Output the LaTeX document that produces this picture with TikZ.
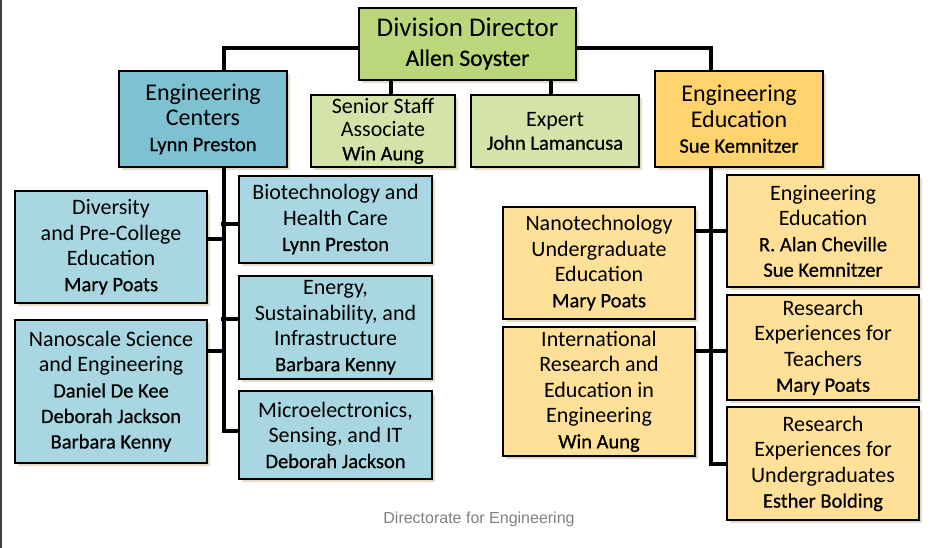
\documentclass[tikz,border=0pt]{standalone}
\usepackage{fontspec}
\setmainfont{Carlito}
\newfontface\namefont{Carlito}[FakeBold=0.7]
\newfontfamily\footfont{Liberation Sans}
\usetikzlibrary{shadows}
\definecolor{dirgreen}{RGB}{186,215,124}
\definecolor{staffgreen}{RGB}{212,228,168}
\definecolor{centerblue}{RGB}{126,194,210}
\definecolor{progblue}{RGB}{168,215,225}
\definecolor{eduorange}{RGB}{255,212,110}
\definecolor{progorange}{RGB}{255,224,153}
\definecolor{shadowtan}{RGB}{228,220,196}
\newcommand{\who}[2][20.5]{{\namefont\fontsize{#1}{25}\selectfont #2}}
\begin{document}
\begin{tikzpicture}[x=1pt,y=-1pt,
  box/.style={draw=black,line width=1.3pt,inner sep=0pt,align=center,
    drop shadow={shadow xshift=3pt,shadow yshift=-3pt,fill=shadowtan,opacity=1}},
  boxsize/.style 2 args={minimum width=#1,minimum height=#2},
  headtext/.style={font=\fontsize{24}{25.5}\selectfont},
  stafftext/.style={font=\fontsize{22}{23.5}\selectfont},
  progtext/.style={font=\fontsize{22}{25.5}\selectfont},
  link/.style={line width=4pt}]
\useasboundingbox (0,0) rectangle (944,548);
\draw[line width=1.5pt,black!75] (0.75,0) -- (0.75,548);

\node[box,fill=dirgreen,boxsize={217pt}{72pt},font=\fontsize{27}{29}\selectfont] (dir) at (467.5,44) {Division Director\\\who[23.5]{Allen Soyster}};
\node[box,fill=centerblue,boxsize={168pt}{96pt},headtext] (centers) at (203,119) {Engineering\\Centers\\\who{Lynn Preston}};
\node[box,fill=staffgreen,boxsize={144pt}{72pt},stafftext] (senior) at (383,131) {Senior Staff\\Associate\\\who{Win Aung}};
\node[box,fill=staffgreen,boxsize={168pt}{72pt},stafftext] (expert) at (555,131) {Expert\\\who{John Lamancusa}};
\node[box,fill=eduorange,boxsize={168pt}{96pt},headtext] (edu) at (739,119) {Engineering\\Education\\\who{Sue Kemnitzer}};

\node[box,fill=progblue,boxsize={193pt}{87pt},progtext] (biotech) at (335.5,219.5) {Biotechnology and\\Health Care\\\who{Lynn Preston}};
\node[box,fill=progblue,boxsize={193pt}{103pt},progtext] (energy) at (335.5,327.5) {Energy,\\Sustainability, and\\Infrastructure\\\who{Barbara Kenny}};
\node[box,fill=progblue,boxsize={193pt}{88pt},progtext] (micro) at (335.5,435) {Microelectronics,\\Sensing, and IT\\\who{Deborah Jackson}};
\node[box,fill=progblue,boxsize={192pt}{112pt},progtext] (diversity) at (111,247) {Diversity\\and Pre-College\\Education\\\who{Mary Poats}};
\node[box,fill=progblue,boxsize={192pt}{143pt},progtext] (nanoscale) at (111,391.5) {Nanoscale Science\\and Engineering\\\who{Daniel De Kee}\\\who{Deborah Jackson}\\\who{Barbara Kenny}};

\node[box,fill=progorange,boxsize={192pt}{112pt},progtext] (nanoedu) at (599,263) {Nanotechnology\\Undergraduate\\Education\\\who{Mary Poats}};
\node[box,fill=progorange,boxsize={192pt}{129pt},progtext] (intl) at (599,391.5) {International\\Research and\\Education in\\Engineering\\\who{Win Aung}};
\node[box,fill=progorange,boxsize={192pt}{112pt},progtext] (engedu) at (823,231) {Engineering\\Education\\\who{R. Alan Cheville}\\\who{Sue Kemnitzer}};
\node[box,fill=progorange,boxsize={192pt}{105pt},progtext] (ret) at (823,347.5) {Research\\Experiences for\\Teachers\\\who{Mary Poats}};
\node[box,fill=progorange,boxsize={192pt}{113pt},progtext] (reu) at (823,463.5) {Research\\Experiences for\\Undergraduates\\\who{Esther Bolding}};

\node[font=\footfont\fontsize{16}{18}\selectfont,text=black!50] (foot) at (479,519) {Directorate for Engineering};

\draw[link] ([yshift=-4pt]dir.west) -| ([xshift=21pt]centers.north);
\draw[link] ([yshift=-4pt]dir.east) -| ([xshift=-28pt]edu.north);
\draw[link] ([xshift=8pt]senior.north) -- ([xshift=8pt]senior.north |- dir.south);
\draw[link] ([xshift=-4pt]expert.north) -- ([xshift=-4pt]expert.north |- dir.south);

\draw[link] ([xshift=21pt]centers.south) |- ([yshift=4pt]micro.west);
\draw[link] ([yshift=-4.5pt]biotech.west) -- ++(-17,0);
\draw[link] ([yshift=8.5pt]energy.west) -- ++(-17,0);
\draw[link] ([yshift=8pt]diversity.east) -- ++(17,0);
\draw[link] ([yshift=40.5pt]nanoscale.east) -- ++(17,0);

\draw[link] ([xshift=-28pt]edu.south) |- (reu.west);
\draw[link] ([yshift=32pt]nanoedu.east) -- (engedu.west);
\draw[link] ([yshift=40.5pt]intl.east) -- ([yshift=-3.5pt]ret.west);
\end{tikzpicture}
\end{document}
